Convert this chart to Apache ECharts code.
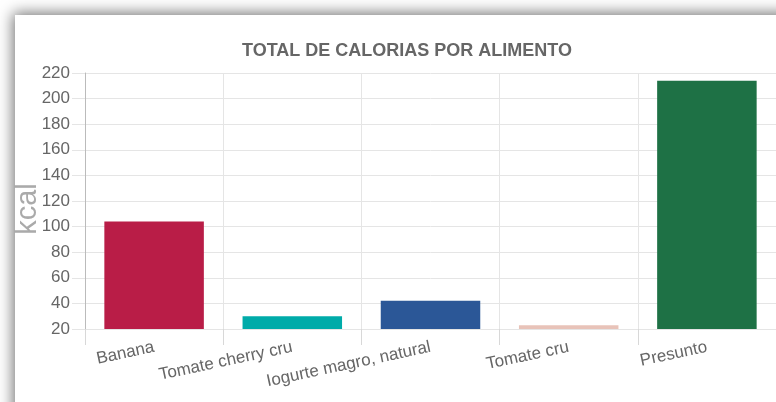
<!DOCTYPE html>
<html>
<head>
<meta charset="utf-8">
<script src="https://cdn.jsdelivr.net/npm/echarts@6/dist/echarts.min.js"></script>
<style>
  html, body { margin: 0; padding: 0; width: 776px; height: 402px; overflow: hidden; background: #ffffff; }
  #card { position: absolute; left: 15px; top: 15px; width: 900px; height: 600px; background: #fff; box-shadow: 0 0 14px 2px rgba(0,0,0,0.55); }
  #chart { position: absolute; left: 0; top: 0; width: 776px; height: 402px; }
</style>
</head>
<body>
<div id="card"></div>
<div id="chart"></div>
<script>
const categories = ["Banana", "Tomate cherry cru", "Iogurte magro, natural", "Tomate cru", "Presunto"];
const kcalValues = [104, 30, 42, 23, 214];
const barColors = ["#b91d47", "#00aba9", "#2b5797", "#e8c3b9", "#1e7145"];
const yTicks = { min: 20, max: 220, step: 20 };
const titleText = "TOTAL DE CALORIAS POR ALIMENTO";
const yAxisTitle = "kcal";

const chart = echarts.init(document.getElementById('chart'), null, { renderer: 'canvas' });
const font = "Liberation Sans, Arial, Helvetica, sans-serif";
chart.setOption({
  animation: false,
  backgroundColor: 'transparent',
  title: {
    text: titleText,
    left: 402,
    textAlign: 'center',
    top: 37,
    textStyle: { fontFamily: font, fontSize: 18, fontWeight: 'bold', color: '#666' }
  },
  grid: { left: 85, right: 0, top: 73, bottom: 73, containLabel: false },
  xAxis: {
    type: 'category',
    data: categories,
    boundaryGap: true,
    axisLine: { show: true, lineStyle: { color: '#e5e5e5' } },
    axisTick: { show: true, length: 16, lineStyle: { color: '#d8d8d8' } },
    splitLine: { show: true, lineStyle: { color: '#e5e5e5' } },
    axisLabel: { rotate: 12, margin: 18, interval: 0, fontFamily: font, fontSize: 17, color: '#666' }
  },
  yAxis: {
    type: 'value',
    min: yTicks.min, max: yTicks.max, interval: yTicks.step,
    axisLine: { show: true, lineStyle: { color: '#bbb' } },
    axisTick: { show: true, length: 13, lineStyle: { color: '#e5e5e5' } },
    splitLine: { show: true, lineStyle: { color: '#e5e5e5' } },
    axisLabel: { margin: 15, fontFamily: font, fontSize: 17, color: '#666' }
  },
  graphic: [{
    type: 'text',
    x: 28, y: 209,
    rotation: Math.PI / 2,
    style: { text: yAxisTitle, fontFamily: font, fontSize: 29, fill: '#aaa', align: 'center', verticalAlign: 'middle' }
  }],
  series: [{
    type: 'bar',
    barWidth: '72%',
    data: kcalValues.map((v, i) => ({ value: v, itemStyle: { color: barColors[i] } }))
  }]
});
</script>
</body>
</html>
